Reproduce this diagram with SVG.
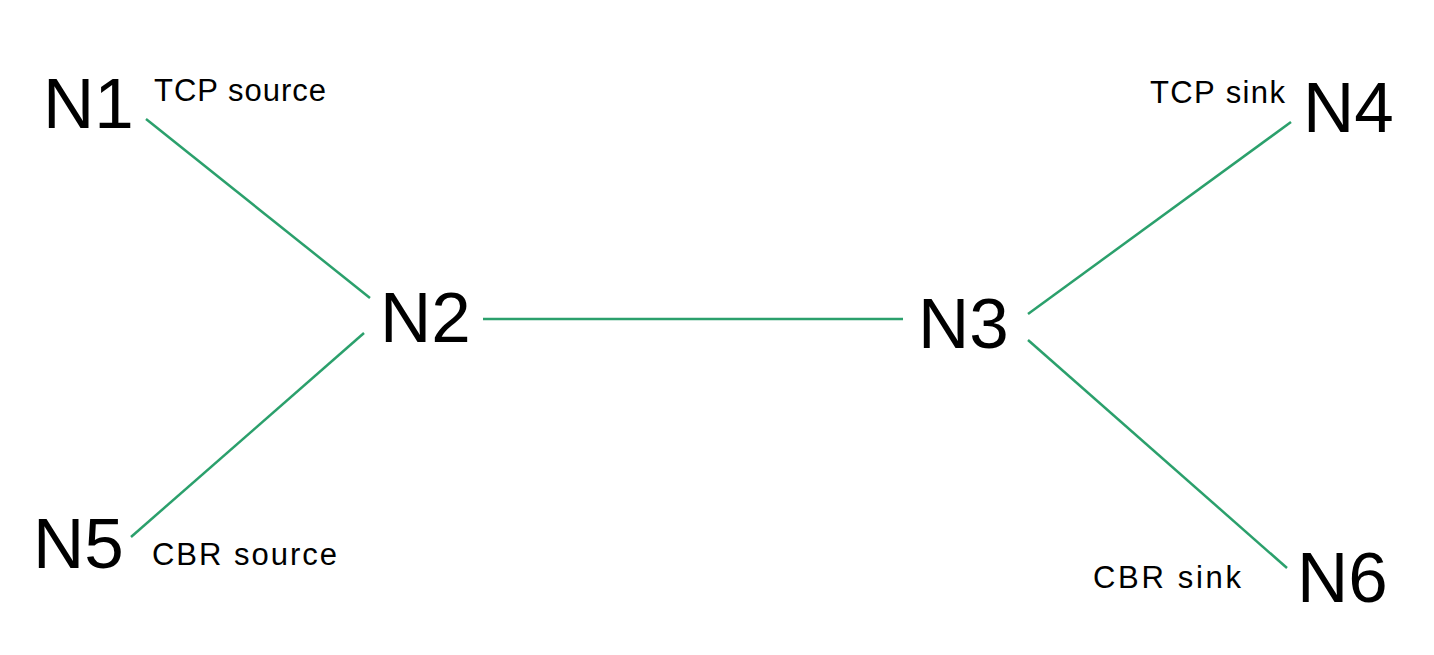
<svg xmlns="http://www.w3.org/2000/svg" width="1434" height="655" viewBox="0 0 1434 655">
<style>
.node{font-family:"Liberation Sans",Arial,sans-serif;font-size:71px;fill:#000}
.lbl{font-family:"Liberation Sans",Arial,sans-serif;font-size:31px;fill:#000}
.edge{stroke:#2ba06c;stroke-width:2.5;fill:none}
</style>
<rect width="1434" height="655" fill="#fff"/>
<g id="connectors">
<line class="edge" x1="146" y1="119" x2="370" y2="298"/>
<line class="edge" x1="364" y1="333" x2="131" y2="537"/>
<line class="edge" x1="483" y1="319" x2="903" y2="319"/>
<line class="edge" x1="1028" y1="314" x2="1291" y2="122"/>
<line class="edge" x1="1028" y1="340" x2="1287" y2="568"/>
</g>
<g id="N1"><text class="node" x="43" y="128">N1</text><text class="lbl" x="154" y="101" textLength="172" lengthAdjust="spacing">TCP source</text></g>
<g id="N2"><text class="node" x="380" y="342">N2</text></g>
<g id="N3"><text class="node" x="918" y="348">N3</text></g>
<g id="N4"><text class="node" x="1303" y="132">N4</text><text class="lbl" x="1150" y="103" textLength="135" lengthAdjust="spacing">TCP sink</text></g>
<g id="N5"><text class="node" x="33" y="568">N5</text><text class="lbl" x="152" y="565" textLength="185" lengthAdjust="spacing">CBR source</text></g>
<g id="N6"><text class="node" x="1297" y="602">N6</text><text class="lbl" x="1093" y="588" textLength="148" lengthAdjust="spacing">CBR sink</text></g>
</svg>
